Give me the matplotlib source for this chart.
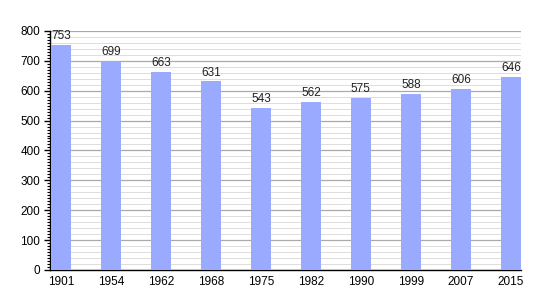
import matplotlib
matplotlib.use("Agg")
import matplotlib.pyplot as plt
import numpy as np
from matplotlib.ticker import MultipleLocator

years = ["1901", "1954", "1962", "1968", "1975", "1982", "1990", "1999", "2007", "2015"]
population = [753, 699, 663, 631, 543, 562, 575, 588, 606, 646]

plt.rcParams["font.family"] = ["Liberation Sans", "DejaVu Sans"]

fig = plt.figure(figsize=(5.5, 3.0), dpi=100)
ax = fig.add_axes([0.091, 0.1, 0.856, 0.797])

x = range(len(years))
ax.bar(x, population, width=0.4, color="#99aaff", zorder=3)
for xi, v in zip(x, population):
    ax.annotate(str(v), (xi, v), xytext=(0, 2), textcoords="offset points",
                ha="center", va="bottom", fontsize=8.5, color="#222222", zorder=4)

ax.set_xticks(list(x))
ax.set_xticklabels(years, fontsize=8.5)
ax.set_xlim(-0.22, 9.2)
ax.set_ylim(0, 800)
ax.yaxis.set_major_locator(MultipleLocator(100))
ax.yaxis.set_minor_locator(MultipleLocator(10))
ax.tick_params(axis="y", labelsize=8.5, length=4, width=1, pad=3)
ax.tick_params(axis="y", which="minor", length=2, width=0.8)
ax.tick_params(axis="x", length=0, pad=4)

# light lines every 20, darker every 100
ax.grid(axis="y", which="major", color="#aaaaaa", linewidth=0.9, zorder=0)
light = [v for v in np.arange(20, 800, 20) if v % 100]
ax.hlines(light, -0.22, 9.2, colors="#dddddd", linewidth=0.7, zorder=0)

for side in ("top", "right"):
    ax.spines[side].set_visible(False)
ax.spines["left"].set_linewidth(1)
ax.spines["bottom"].set_linewidth(1)

fig.savefig("out.png", dpi=100)
